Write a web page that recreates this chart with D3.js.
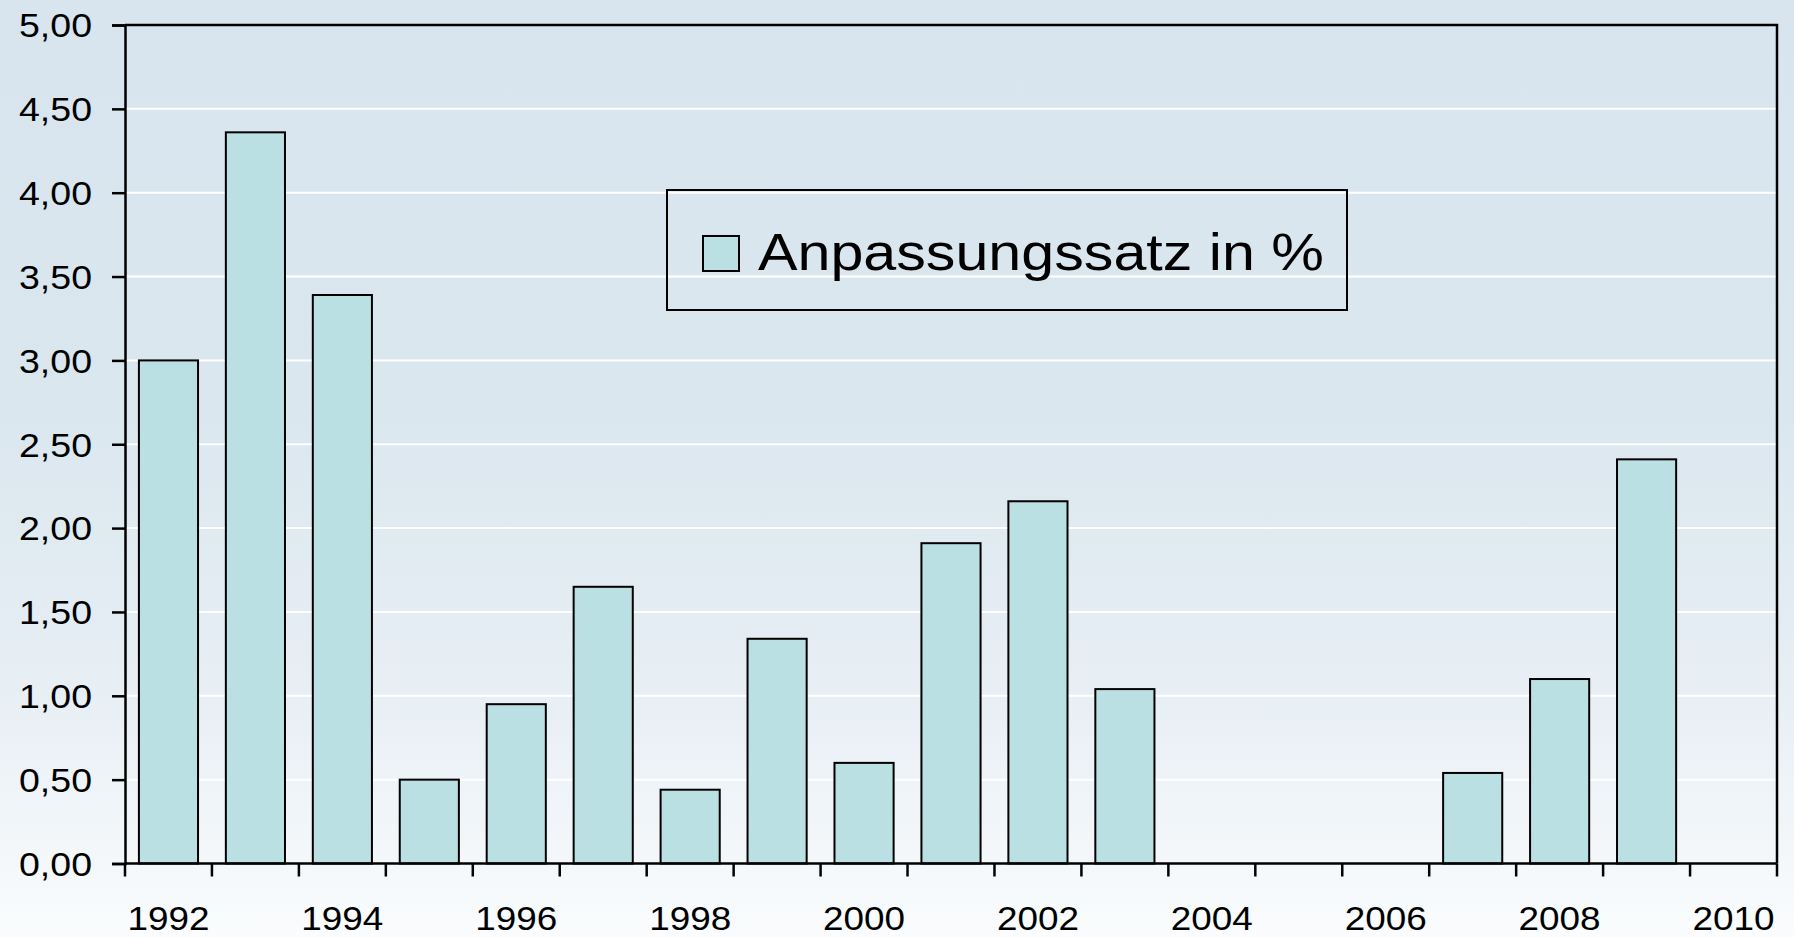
<!DOCTYPE html>
<html>
<head>
<meta charset="utf-8">
<script src="https://cdn.jsdelivr.net/npm/d3@7"></script>
<style>
  html, body { margin: 0; padding: 0; overflow: hidden; }
  svg { display: block; font-family: "Liberation Sans", Arial, sans-serif; }
</style>
</head>
<body>
<svg id="chart" width="1794" height="937"></svg>
<script>
// Daten
const years = d3.range(1992, 2011).map(String);
const values = [3.00, 4.36, 3.39, 0.50, 0.95, 1.65, 0.44, 1.34, 0.60, 1.91, 2.16, 1.04, 0, 0, 0, 0.54, 1.10, 2.41, 0];
const yTicks = [0, 0.5, 1, 1.5, 2, 2.5, 3, 3.5, 4, 4.5, 5];
const xTickLabels = ['1992', '1994', '1996', '1998', '2000', '2002', '2004', '2006', '2008', '2010'];
const seriesName = 'Anpassungssatz in %';

const W = 1794, H = 937;
const margin = { left: 125, right: 17, top: 25, bottom: 73 };

const svg = d3.select('#chart');
const defs = svg.append('defs');

// Hintergrundverlauf
const bg = defs.append('linearGradient')
    .attr('id', 'bgGradient')
    .attr('x1', 0).attr('y1', 0).attr('x2', 0).attr('y2', 1);
bg.append('stop').attr('offset', '0%').attr('stop-color', '#d9e5ee');
bg.append('stop').attr('offset', '45%').attr('stop-color', '#dbe7ef');
bg.append('stop').attr('offset', '75%').attr('stop-color', '#e8eff5');
bg.append('stop').attr('offset', '100%').attr('stop-color', '#fafcfd');

svg.append('rect')
    .attr('width', W).attr('height', H)
    .attr('fill', 'url(#bgGradient)');

const x = d3.scaleBand()
    .domain(years)
    .range([margin.left, W - margin.right])
    .paddingInner(0.32)
    .paddingOuter(0.16);

const y = d3.scaleLinear()
    .domain([0, 5])
    .range([H - margin.bottom - 0.5, margin.top]);

// Gitterlinien
svg.append('g')
    .selectAll('line')
    .data(yTicks.filter(d => d > 0 && d < 5))
    .join('line')
    .attr('x1', margin.left).attr('x2', W - margin.right)
    .attr('y1', d => y(d)).attr('y2', d => y(d))
    .attr('stroke', '#ffffff')
    .attr('stroke-width', 2);

// Balken
svg.append('g')
    .selectAll('rect')
    .data(values.map((v, i) => ({ year: years[i], value: v })).filter(d => d.value > 0))
    .join('rect')
    .attr('x', d => x(d.year))
    .attr('y', d => y(d.value))
    .attr('width', x.bandwidth())
    .attr('height', d => y(0) - y(d.value))
    .attr('fill', '#bae0e3')
    .attr('stroke', '#000')
    .attr('stroke-width', 2);

// Rahmen oben und rechts
svg.append('path')
    .attr('d', `M${margin.left},${margin.top}H${W - margin.right}V${y(0)}`)
    .attr('fill', 'none')
    .attr('stroke', '#000')
    .attr('stroke-width', 2.5);

// Y-Achse
const yAxis = svg.append('g')
    .attr('transform', `translate(${margin.left},0)`)
    .call(d3.axisLeft(y)
        .tickValues(yTicks)
        .tickSize(13)
        .tickPadding(20)
        .tickFormat(d => d3.format('.2f')(d).replace('.', ',')));
yAxis.select('.domain').attr('stroke-width', 2.5);
yAxis.selectAll('.tick line').attr('stroke-width', 2.5);
yAxis.selectAll('.tick text')
    .attr('font-size', 33)
    .attr('fill', '#000')
    .attr('dy', '0.36em')
    .attr('textLength', 73)
    .attr('lengthAdjust', 'spacingAndGlyphs');

// X-Achse (Ticks an den Kategoriegrenzen)
const step = x.step();
const xBounds = d3.range(years.length + 1).map(i => margin.left + i * step);
const xAxis = svg.append('g');
xAxis.append('line')
    .attr('x1', margin.left).attr('x2', W - margin.right)
    .attr('y1', y(0)).attr('y2', y(0))
    .attr('stroke', '#000').attr('stroke-width', 2.5);
xAxis.selectAll('line.tick')
    .data(xBounds)
    .join('line')
    .attr('class', 'tick')
    .attr('x1', d => d).attr('x2', d => d)
    .attr('y1', y(0)).attr('y2', y(0) + 13)
    .attr('stroke', '#000').attr('stroke-width', 2.5);
xAxis.selectAll('text')
    .data(xTickLabels)
    .join('text')
    .attr('x', d => x(d) + x.bandwidth() / 2)
    .attr('y', 930)
    .attr('text-anchor', 'middle')
    .attr('font-size', 33)
    .attr('fill', '#000')
    .attr('textLength', 82)
    .attr('lengthAdjust', 'spacingAndGlyphs')
    .text(d => d);

// Legende
const legend = svg.append('g');
legend.append('rect')
    .attr('x', 667).attr('y', 190)
    .attr('width', 680).attr('height', 120)
    .attr('fill', 'none')
    .attr('stroke', '#000')
    .attr('stroke-width', 2);
legend.append('rect')
    .attr('x', 703).attr('y', 236)
    .attr('width', 36).attr('height', 35)
    .attr('fill', '#bae0e3')
    .attr('stroke', '#000')
    .attr('stroke-width', 2);
legend.append('text')
    .attr('x', 758).attr('y', 270)
    .attr('font-size', 52)
    .attr('fill', '#000')
    .attr('textLength', 566)
    .attr('lengthAdjust', 'spacingAndGlyphs')
    .text(seriesName);
</script>
</body>
</html>
